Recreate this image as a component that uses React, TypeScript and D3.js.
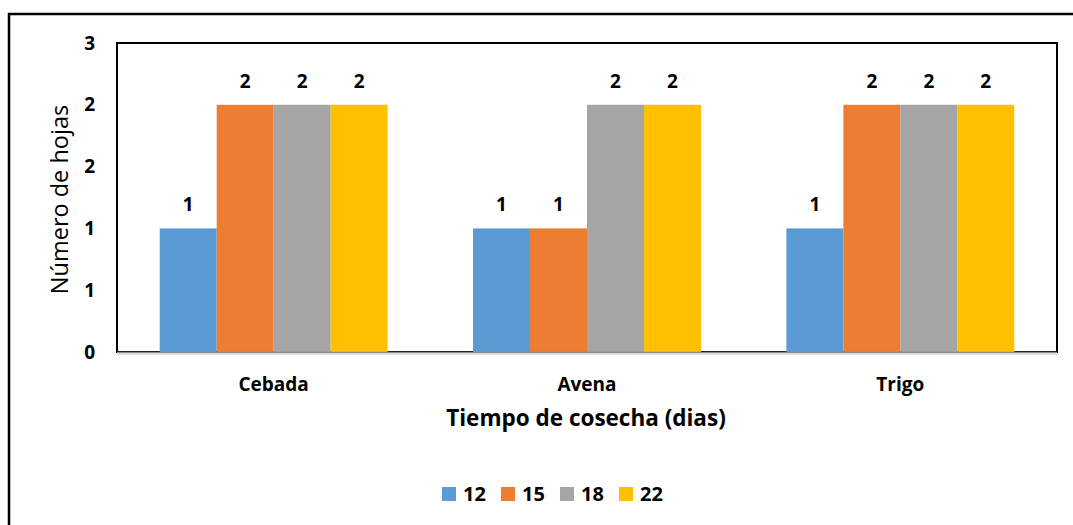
import React from "react";
import * as d3 from "d3";

// Crops and harvest-time series (days)
const categories = ["Cebada", "Avena", "Trigo"];
const seriesKeys = ["12", "15", "18", "22"];
const values12 = [1.2, 1.2, 1.2];
const values15 = [2.4, 1.2, 2.4];
const values18 = [2.4, 2.4, 2.4];
const values22 = [2.4, 2.4, 2.4];
const yTicks = [0, 0.6, 1.2, 1.8, 2.4, 3.0];
const colors = ["#5B9BD5", "#ED7D31", "#A5A5A5", "#FFC000"];

const seriesValues = [values12, values15, values18, values22];

const W = 1073;
const H = 525;
const plot = { left: 117, top: 43, right: 1057, bottom: 352 };
const FONT = "'Open Sans', sans-serif";

export default function App() {
  const x0 = d3
    .scaleBand<string>()
    .domain(categories)
    .range([plot.left, plot.right])
    .padding(0);
  const x1 = d3
    .scaleBand<string>()
    .domain(seriesKeys)
    .range([0, x0.bandwidth()])
    .paddingInner(0)
    .paddingOuter(0.75);
  const y = d3.scaleLinear().domain([0, 3]).range([plot.bottom, plot.top]);
  const fmt = d3.format(".0f");

  const legendX = d3.scalePoint<string>().domain(seriesKeys).range([442, 619]);

  return (
    <svg
      width={W}
      height={H}
      style={{ position: "absolute", left: 0, top: 0, background: "#fff" }}
      fontFamily={FONT}
    >
      {/* chart frame */}
      <rect x={9} y={14} width={1200} height={700} fill="none" stroke="#000" strokeWidth={2.5} />

      {/* plot frame */}
      <rect
        x={plot.left}
        y={plot.top}
        width={plot.right - plot.left}
        height={plot.bottom - plot.top}
        fill="#fff"
        stroke="#000"
        strokeWidth={2}
      />

      {/* bars */}
      {categories.map((c, ci) =>
        seriesKeys.map((k, si) => {
          const v = seriesValues[si][ci];
          const bx = (x0(c) ?? 0) + (x1(k) ?? 0);
          return (
            <rect
              key={c + k}
              x={bx}
              y={y(v)}
              width={x1.bandwidth()}
              height={y(0) - y(v)}
              fill={colors[si]}
            />
          );
        })
      )}

      {/* value labels */}
      {categories.map((c, ci) =>
        seriesKeys.map((k, si) => {
          const v = seriesValues[si][ci];
          const cx = (x0(c) ?? 0) + (x1(k) ?? 0) + x1.bandwidth() / 2;
          return (
            <text
              key={"l" + c + k}
              x={cx}
              y={y(v) - 17}
              textAnchor="middle"
              fontSize={19}
              fontWeight="bold"
              fill="#000"
            >
              {fmt(v)}
            </text>
          );
        })
      )}

      {/* x axis line */}
      <line x1={plot.left} x2={plot.right} y1={plot.bottom + 0.5} y2={plot.bottom + 0.5} stroke="#8c8c8c" strokeWidth={1.5} />
      <line x1={plot.left} x2={plot.right} y1={plot.bottom + 2} y2={plot.bottom + 2} stroke="#d6d6d6" strokeWidth={1.5} />

      {/* y tick labels */}
      {yTicks.map((t) => (
        <text
          key={"y" + t}
          x={95}
          y={y(t)}
          dy="0.35em"
          textAnchor="end"
          fontSize={19}
          fontWeight="bold"
          fill="#000"
        >
          {fmt(t)}
        </text>
      ))}

      {/* category labels */}
      {categories.map((c) => (
        <text
          key={"c" + c}
          x={(x0(c) ?? 0) + x0.bandwidth() / 2}
          y={391}
          textAnchor="middle"
          fontSize={19}
          fontWeight="bold"
          fill="#000"
        >
          {c}
        </text>
      ))}

      {/* axis titles */}
      <text x={586} y={426} textAnchor="middle" fontSize={22.5} fontWeight="bold" fill="#000">
        Tiempo de cosecha (dias)
      </text>
      <text
        transform={`translate(68,${(plot.top + plot.bottom) / 2 + 2}) rotate(-90)`}
        textAnchor="middle"
        fontSize={23.5}
        fill="#000"
      >
        Número de hojas
      </text>

      {/* legend */}
      {seriesKeys.map((k, si) => {
        const lx = legendX(k) ?? 0;
        return (
          <g key={"lg" + k}>
            <rect x={lx} y={487} width={14} height={14} fill={colors[si]} />
            <text x={lx + 21} y={501} fontSize={20} fontWeight="bold" fill="#000">
              {k}
            </text>
          </g>
        );
      })}
    </svg>
  );
}
